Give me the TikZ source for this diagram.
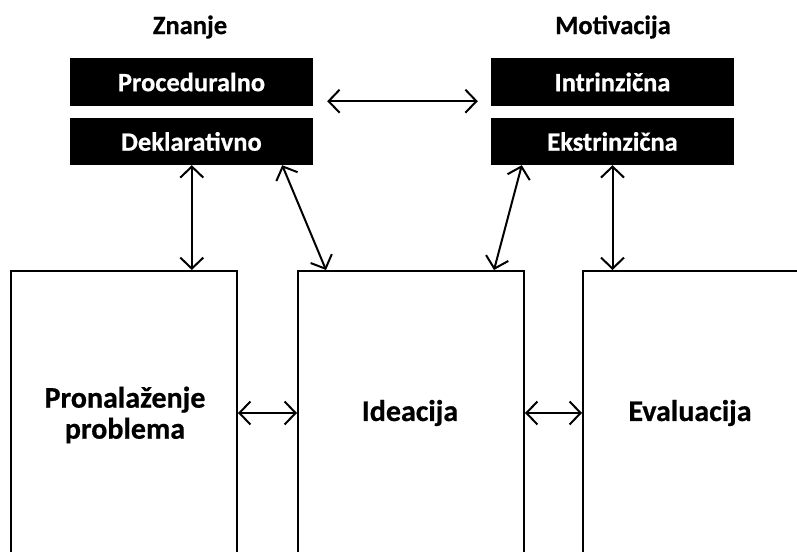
\documentclass[tikz,border=0pt]{standalone}
\usepackage{fontspec}
\setmainfont{Carlito}[BoldFeatures={FakeBold=0.6}]
\usetikzlibrary{arrows.meta,calc}
\begin{document}
\begin{tikzpicture}[x=1pt,y=1pt,
  heading/.style={font=\bfseries\fontsize{26.5}{30}\selectfont},
  darkbox/.style={fill=black, text=white, inner sep=0pt,
    minimum width=243pt, minimum height=48pt,
    font=\bfseries\fontsize{26.5}{30}\selectfont},
  stagebox/.style={draw=black, line width=2pt, inner sep=0pt,
    minimum width=226pt, minimum height=330pt, anchor=north west},
  stagetext/.style={align=center, font=\bfseries\fontsize{30}{31}\selectfont},
  tip/.tip={Straight Barb[length=11pt,width=23pt,line width=2pt]},
  link/.style={tip-tip, line width=2pt}]
\useasboundingbox (0,0) rectangle (797,551);
\clip (0,0) rectangle (797,551);

% knowledge and motivation headings
\node[heading] (know) at (190,524) {Znanje};
\node[heading] (motiv) at (613,524) {Motivacija};

% black category boxes
\node[darkbox] (proc) at (191.5,469) {Proceduralno};
\node[darkbox, minimum height=47pt] (decl) at (191.5,409.5) {Deklarativno};
\node[darkbox] (intr) at (612.5,469) {Intrinzična};
\node[darkbox, minimum height=47pt] (extr) at (612.5,409.5) {Ekstrinzična};

% process stages, open towards the bottom
\node[stagebox] (find) at (10,281) {};
\node[stagebox] (idea) at (297,281) {};
\node[stagebox, minimum width=240pt] (eval) at (582,281) {};

\node[stagetext] (findtxt) at (125,136) {Pronalaženje\\problema};
\node[stagetext] (ideatxt) at (410,138) {Ideacija};
\node[stagetext] (evaltxt) at (690,138) {Evaluacija};

% connectors
\coordinate (pl) at ($(proc.south east)+(14,5)$);
\coordinate (pr) at ($(intr.south west)+(-13,5)$);
\draw[link] (pl) -- (pr);

\coordinate (d1) at ($(decl.south west)+(122,0)$);
\draw[link] (d1) -- (d1 |- find.north);
\draw[link] ($(decl.south east)+(-31,0)$) -- ($(idea.north west)+(29,0)$);
\draw[link] ($(extr.south west)+(31,0)$) -- ($(idea.north east)+(-31,0)$);
\draw[link] (extr.south) -- (extr.south |- eval.north);

\draw[link] (find.east |- ideatxt) -- (idea.west |- ideatxt);
\draw[link] (idea.east |- evaltxt) -- (eval.west |- evaltxt);
\end{tikzpicture}
\end{document}
